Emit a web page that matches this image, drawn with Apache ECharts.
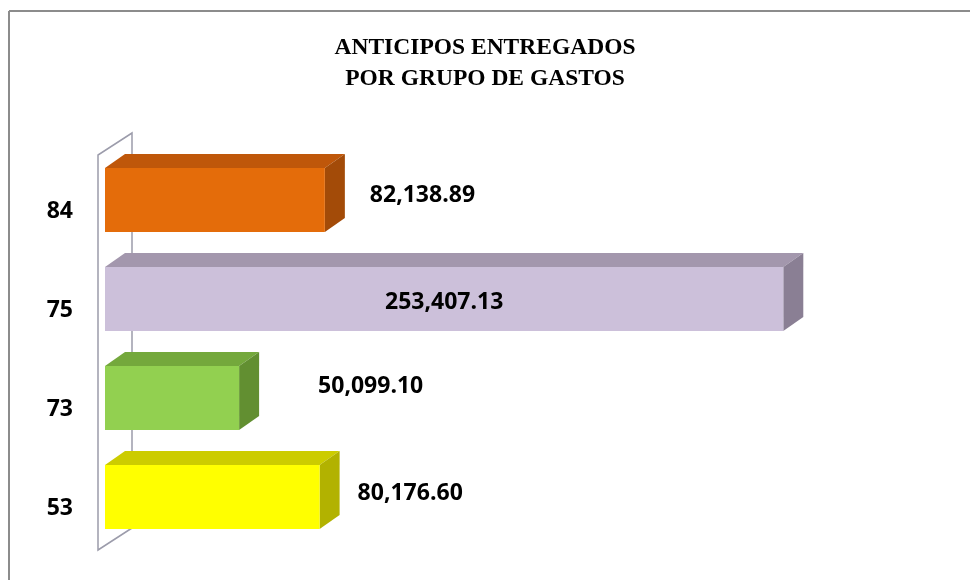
<!DOCTYPE html>
<html>
<head>
<meta charset="utf-8">
<script src="https://cdn.jsdelivr.net/npm/echarts@6/dist/echarts.min.js"></script>
<style>
  html, body { margin: 0; padding: 0; background: #fff; }
  #bar { width: 970px; height: 580px; }
</style>
</head>
<body>
<div id="bar"></div>
<script>
// grupos de gasto (de abajo hacia arriba)
var grupos = ['53', '73', '75', '84'];
var anticipos = [80176.60, 50099.10, 253407.13, 82138.89];

// colores de cada barra: frente, tapa, lado
var colFrente = ['#ffff00', '#92d050', '#ccc0da', '#e46c0a'];
var colTapa = ['#cccc00', '#74a83c', '#a397ad', '#bf570a'];
var colLado = ['#b2b200', '#628f31', '#8a7f94', '#a34b08'];
// desplazamiento de la etiqueta respecto al extremo de la barra
var etqDx = [38, 79, null, 45];
var etqDy = [-4, -12, 3, -5];

var fmt = function (v) {
    return v.toLocaleString('en-US', {minimumFractionDigits: 2, maximumFractionDigits: 2});
};

var mybar = echarts.init(document.getElementById('bar'));

var fondo = 20, alto = -14;

mybar.setOption({
    animation: false,
    title: {
        text: 'ANTICIPOS ENTREGADOS\nPOR GRUPO DE GASTOS',
        left: 'center',
        top: 32,
        padding: 0,
        textStyle: {
            fontFamily: 'Liberation Serif',
            fontWeight: 'bold',
            fontSize: 23.5,
            lineHeight: 31,
            color: '#000'
        }
    },
    graphic: [
        {type: 'line', shape: {x1: 9, y1: 11, x2: 970, y2: 11}, style: {stroke: '#8c8c8c', lineWidth: 2}},
        {type: 'line', shape: {x1: 9, y1: 11, x2: 9, y2: 580}, style: {stroke: '#8c8c8c', lineWidth: 2}}
    ],
    grid: {left: 105, right: 62, top: 150.5, bottom: 33.5},
    xAxis: {
        type: 'value',
        min: 0,
        max: 300000,
        show: false
    },
    yAxis: {
        type: 'category',
        data: grupos,
        axisLine: {show: false},
        axisTick: {show: false},
        axisLabel: {
            margin: 32,
            formatter: '{a|{value}}',
            rich: {
                a: {
                    fontFamily: 'Open Sans',
                    fontWeight: 'bold',
                    fontSize: 23,
                    color: '#000',
                    padding: [22, 0, 0, 0]
                }
            }
        }
    },
    series: [
        {
            // pared lateral
            type: 'custom',
            data: [[0, 0]],
            silent: true,
            z: 1,
            renderItem: function (params, api) {
                var cs = params.coordSys;
                var fx = cs.x - 7, top = cs.y + 4.5, bot = cs.y + cs.height + 3.5;
                var bx = fx + 34, dy = -22;
                var st = {stroke: '#9c9cab', lineWidth: 1.5, fill: null};
                return {
                    type: 'group',
                    children: [
                        {type: 'polyline', shape: {points: [[bx, bot + dy], [fx, bot], [fx, top], [bx, top + dy], [bx, bot + dy]]}, style: st}
                    ]
                };
            }
        },
        {
            type: 'custom',
            z: 2,
            data: anticipos.map(function (v, i) { return [v, i]; }),
            encode: {x: 0, y: 1},
            renderItem: function (params, api) {
                var i = params.dataIndex;
                var val = api.value(0), cat = api.value(1);
                var p0 = api.coord([0, cat]);
                var p1 = api.coord([val, cat]);
                var h = api.size([0, 1])[1] * 0.645;
                var x0 = p0[0], x1 = p1[0];
                var yT = p0[1] - h / 2, yB = p0[1] + h / 2;
                var lx, ly = p0[1] + etqDy[i], align;
                if (etqDx[i] === null) {
                    lx = (x0 + x1) / 2; align = 'center';
                } else {
                    lx = x1 + etqDx[i]; align = 'left';
                }
                return {
                    type: 'group',
                    children: [
                        {type: 'polygon', shape: {points: [[x0, yT], [x0 + fondo, yT + alto], [x1 + fondo, yT + alto], [x1, yT]]},
                            style: {fill: colTapa[i]}},
                        {type: 'polygon', shape: {points: [[x1, yT], [x1 + fondo, yT + alto], [x1 + fondo, yB + alto], [x1, yB]]},
                            style: {fill: colLado[i]}},
                        {type: 'rect', shape: {x: x0, y: yT, width: x1 - x0, height: h},
                            style: {fill: colFrente[i]}},
                        {type: 'text', z2: 10, style: {
                            x: lx, y: ly, text: fmt(val), align: align, verticalAlign: 'middle',
                            font: 'bold 23px "Open Sans"', fill: '#000'
                        }}
                    ]
                };
            }
        }
    ]
});
</script>
</body>
</html>
